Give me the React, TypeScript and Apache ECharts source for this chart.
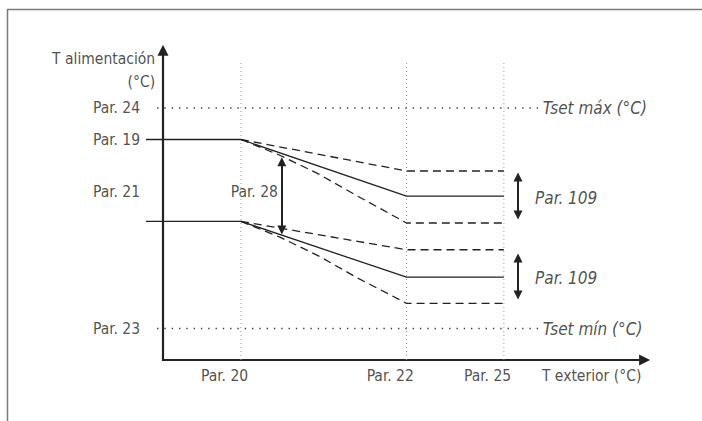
import React, { useEffect, useRef } from 'react';
import * as echarts from 'echarts';

const FONT = "'DejaVu Sans Condensed', 'Liberation Sans Narrow', 'DejaVu Sans', sans-serif";
const INK = '#222';
const TEXT = '#222';

// Tick positions (schematic units)
const xTickNames = ['Par. 20', 'Par. 22', 'Par. 25'];
const xTickValues = [16, 50, 70];
const yTickNames = ['Par. 24', 'Par. 19', 'Par. 21', 'Par. 23'];
const yTickValues = [80, 70, 53.3, 10];

// Curves
const upperSolid = [[-3.5, 70], [16, 70], [50, 52], [70, 52]];
const upperDashHigh = [[16, 70], [50, 60], [70, 60]];
const upperDashLow = [[16, 70], [24, 65], [32, 59], [40, 52], [50, 43.5], [70, 43.5]];
const lowerSolid = [[-3.5, 44], [16, 44], [50, 26.3], [70, 26.3]];
const lowerDashHigh = [[16, 44], [50, 35], [70, 35]];
const lowerDashLow = [[16, 44], [24, 39], [32, 33], [40, 26], [50, 18], [70, 18]];

// Limits
const tsetMax = 80;
const tsetMin = 10;
const limitStartX = -1.2;
const limitEndX = 77;
const guideTop = 95.2;

// Axes (drawn with arrow heads)
const xAxisLine = [[-0.2, 0], [98.9, 0]];
const yAxisLine = [[0, -0.3], [0, 98.3]];

// Arrows
const par28Arrow = [[24.4, 62.9], [24.4, 41.3]];
const par109Upper = [[72.9, 58.1], [72.9, 46]];
const par109Lower = [[72.9, 32.4], [72.9, 20.6]];

const yTitle1 = 'T alimentación';
const yTitle2 = '(°C)';
const xTitle = 'T exterior (°C)';
const tsetMaxLabel = 'Tset máx (°C)';
const tsetMinLabel = 'Tset mín (°C)';
const par28Label = 'Par. 28';
const par109Label = 'Par. 109';

export default function App() {
  const ref = useRef<HTMLDivElement>(null);
  useEffect(() => {
    document.body.style.margin = '0';
    if (!ref.current) return;
    const chart = echarts.init(ref.current, null, { renderer: 'svg' });

    const lineSeries = (data: number[][], dashed: boolean, width = 1.3) => ({
      type: 'line',
      data,
      showSymbol: false,
      symbol: 'none',
      clip: false,
      silent: true,
      lineStyle: { color: INK, width, type: dashed ? [8, 5] : 'solid' },
    });

    const guide = (data: number[][], color: string, dash: number[], width = 1) => ({
      type: 'line',
      data,
      showSymbol: false,
      symbol: 'none',
      clip: false,
      silent: true,
      lineStyle: { color, width, type: dash },
    });

    const arrow = (coords: number[][], both: boolean, size: number | number[], width: number) => ({
      type: 'lines',
      coordinateSystem: 'cartesian2d',
      clip: false,
      silent: true,
      symbol: both ? ['triangle', 'triangle'] : ['none', 'triangle'],
      symbolSize: size,
      lineStyle: { color: INK, width, opacity: 1, curveness: 0 },
      data: [{ coords }],
    });

    const baseText = { fontFamily: FONT, fontSize: 15.5, color: TEXT };
    const italicText = { fontFamily: FONT, fontSize: 17, color: TEXT, fontStyle: 'italic' };

    const labels: any[] = [];
    yTickNames.forEach((n, i) => {
      labels.push({ value: [-4.7, yTickValues[i]], label: { ...baseText, formatter: n, position: 'left', distance: 0 } });
    });
    xTickNames.forEach((n, i) => {
      labels.push({ value: [xTickValues[i] + 1.5, -5.1], label: { ...baseText, formatter: n, position: 'left', distance: 0 } });
    });
    labels.push({ value: [-1.6, 95.6], label: { ...baseText, formatter: yTitle1, position: 'left', distance: 0 } });
    labels.push({ value: [-1.6, 88.3], label: { ...baseText, formatter: yTitle2, position: 'left', distance: 0 } });
    labels.push({ value: [77.8, -5.1], label: { ...baseText, formatter: xTitle, position: 'right', distance: 0 } });
    labels.push({ value: [78, tsetMax], label: { ...italicText, formatter: tsetMaxLabel, position: 'right', distance: 0 } });
    labels.push({ value: [78, tsetMin], label: { ...italicText, formatter: tsetMinLabel, position: 'right', distance: 0 } });
    labels.push({ value: [23.6, 53.3], label: { ...baseText, formatter: par28Label, position: 'left', distance: 0 } });
    labels.push({ value: [76.4, 51.4], label: { ...italicText, formatter: par109Label, position: 'right', distance: 0 } });
    labels.push({ value: [76.4, 26], label: { ...italicText, formatter: par109Label, position: 'right', distance: 0 } });

    const series: any[] = [
      ...xTickValues.map((x) => guide([[x, 0], [x, guideTop]], '#9a9a9a', [1, 3])),
      guide([[limitStartX, tsetMax], [limitEndX, tsetMax]], '#333', [1.3, 6], 1.3),
      guide([[limitStartX, tsetMin], [limitEndX, tsetMin]], '#333', [1.3, 6], 1.3),
      lineSeries(upperSolid, false),
      lineSeries(upperDashHigh, true),
      lineSeries(upperDashLow, true),
      lineSeries(lowerSolid, false),
      lineSeries(lowerDashHigh, true),
      lineSeries(lowerDashLow, true),
      arrow(xAxisLine, false, [11, 11], 2.2),
      arrow(yAxisLine, false, [9, 11], 2.2),
      arrow(par28Arrow, true, 9, 2),
      arrow(par109Upper, true, 9, 2),
      arrow(par109Lower, true, 9, 2),
      {
        type: 'scatter',
        symbol: 'circle',
        symbolSize: 0,
        clip: false,
        silent: true,
        itemStyle: { color: 'transparent' },
        label: { show: true },
        data: labels,
      },
    ];

    chart.setOption({
      animation: false,
      backgroundColor: '#fff',
      grid: { left: 138.65, right: 52, top: 45, bottom: 61 },
      xAxis: {
        type: 'value',
        min: -5,
        max: 100,
        axisLine: { show: false },
        axisTick: { show: false },
        axisLabel: { show: false },
        splitLine: { show: false },
      },
      yAxis: {
        type: 'value',
        min: 0,
        max: 100,
        axisLine: { show: false },
        axisTick: { show: false },
        axisLabel: { show: false },
        splitLine: { show: false },
      },
      graphic: [
        {
          type: 'polyline',
          shape: { points: [[7.5, 421], [7.5, 9.5], [702, 9.5]] },
          style: { stroke: '#7a7a7a', lineWidth: 1.5, fill: 'none' },
          silent: true,
        },
      ],
      series,
    });
    return () => chart.dispose();
  }, []);
  return <div ref={ref} style={{ width: 702, height: 421 }} />;
}
